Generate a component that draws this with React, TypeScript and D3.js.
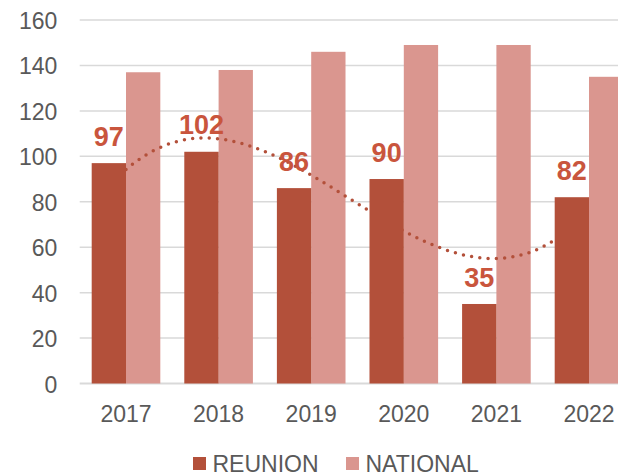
import React, { useEffect, useRef } from "react";
import * as d3 from "d3";

const years = ["2017", "2018", "2019", "2020", "2021", "2022"];
const reunion = [97, 102, 86, 90, 35, 82];
const national = [137, 138, 146, 149, 149, 135];
const yTicks = [0, 20, 40, 60, 80, 100, 120, 140, 160];
const seriesNames = ["REUNION", "NATIONAL"];

const colors = { reunion: "#B3503A", national: "#DA968F", label: "#C9553D", axis: "#595959", grid: "#D9D9D9" };

// least squares polynomial (like Excel's trendline)
const polyFit = (xs: number[], ys: number[], order: number) => {
  const n = order + 1;
  const A: number[][] = [];
  for (let i = 0; i < n; i++) {
    A.push([]);
    for (let j = 0; j < n; j++) A[i].push(d3.sum(xs, x => Math.pow(x, i + j)));
    A[i].push(d3.sum(xs, (x, k) => Math.pow(x, i) * ys[k]));
  }
  for (let i = 0; i < n; i++) {
    let p = i;
    for (let r = i + 1; r < n; r++) if (Math.abs(A[r][i]) > Math.abs(A[p][i])) p = r;
    [A[i], A[p]] = [A[p], A[i]];
    for (let r = 0; r < n; r++) {
      if (r === i) continue;
      const f = A[r][i] / A[i][i];
      for (let c = i; c <= n; c++) A[r][c] -= f * A[i][c];
    }
  }
  const coef = A.map((row, i) => row[n] / row[i]);
  return (x: number) => coef.reduce((s, c, i) => s + c * Math.pow(x, i), 0);
};

const drawChart = (el: SVGSVGElement) => {
  const width = 618;
  const height = 474;
  const svg = d3.select(el);
  svg.selectAll("*").remove();

  // plot runs past the right edge (the picture is cropped)
  const x = d3.scaleBand().domain(years).range([79.7, 635.3]).paddingInner(0.259).paddingOuter(0.1295);
  const y = d3.scaleLinear().domain([0, 160]).range([383.5, 20]);
  const inner = d3.scaleBand().domain(seriesNames).range([0, x.bandwidth()]);

  const font = "'Liberation Sans', Arial, sans-serif";

  // gridlines
  svg
    .append("g")
    .selectAll("line")
    .data(yTicks)
    .enter()
    .append("line")
    .attr("x1", 79.7)
    .attr("x2", width)
    .attr("y1", d => y(d))
    .attr("y2", d => y(d))
    .attr("stroke", colors.grid)
    .attr("stroke-width", d => (d === 0 ? 2 : 1.5));

  svg
    .append("g")
    .selectAll("text")
    .data(yTicks)
    .enter()
    .append("text")
    .attr("x", 57.3)
    .attr("y", d => y(d) + 9)
    .attr("text-anchor", "end")
    .attr("font-family", font)
    .attr("font-size", 23)
    .attr("fill", colors.axis)
    .text(d => d);

  svg
    .append("g")
    .selectAll("text")
    .data(years)
    .enter()
    .append("text")
    .attr("x", d => x(d)! + x.bandwidth() / 2)
    .attr("y", 422)
    .attr("text-anchor", "middle")
    .attr("font-family", font)
    .attr("font-size", 23)
    .attr("fill", colors.axis)
    .text(d => d);

  // national bars
  svg
    .append("g")
    .selectAll("rect")
    .data(national)
    .enter()
    .append("rect")
    .attr("x", (d, i) => x(years[i])! + inner("NATIONAL")!)
    .attr("y", d => y(d))
    .attr("width", inner.bandwidth())
    .attr("height", d => y(0) - y(d))
    .attr("fill", colors.national);

  // polynomial trendline of reunion
  const xs = years.map((_, i) => i + 1);
  const fit = polyFit(xs, reunion, 3);
  const tx = d3.scaleLinear().domain([1, 6]).range([x(years[0])! + x.bandwidth() / 2, x(years[5])! + x.bandwidth() / 2]);
  const pts = d3.range(1, 6.001, 0.05).map(t => [tx(t), y(fit(t))] as [number, number]);
  svg
    .append("path")
    .attr("d", d3.line()(pts))
    .attr("fill", "none")
    .attr("stroke", colors.reunion)
    .attr("stroke-width", 3.5)
    .attr("stroke-linecap", "round")
    .attr("stroke-dasharray", "0 8.3");

  // reunion bars
  svg
    .append("g")
    .selectAll("rect")
    .data(reunion)
    .enter()
    .append("rect")
    .attr("x", (d, i) => x(years[i])! + inner("REUNION")!)
    .attr("y", d => y(d))
    .attr("width", inner.bandwidth())
    .attr("height", d => y(0) - y(d))
    .attr("fill", colors.reunion);

  svg
    .append("g")
    .selectAll("text")
    .data(reunion)
    .enter()
    .append("text")
    .attr("x", (d, i) => x(years[i])! + inner("REUNION")! + inner.bandwidth() / 2)
    .attr("y", d => y(d) - 17.3)
    .attr("text-anchor", "middle")
    .attr("font-family", font)
    .attr("font-size", 27)
    .attr("font-weight", "bold")
    .attr("fill", colors.label)
    .text(d => d);

  // legend
  const legend = svg.append("g");
  const items = [
    { name: "REUNION", color: colors.reunion, x: 193 },
    { name: "NATIONAL", color: colors.national, x: 346 }
  ];
  items.forEach(it => {
    legend.append("rect").attr("x", it.x).attr("y", 457).attr("width", 13).attr("height", 13).attr("fill", it.color);
    legend
      .append("text")
      .attr("x", it.x + 19.5)
      .attr("y", 472)
      .attr("font-family", font)
      .attr("font-size", 23)
      .attr("fill", colors.axis)
      .text(it.name);
  });

  svg.attr("width", width).attr("height", height);
};

function App() {
  const ref = useRef<SVGSVGElement>(null);
  useEffect(() => {
    if (ref.current) drawChart(ref.current);
  }, []);
  return (
    <svg
      ref={ref}
      width={618}
      height={474}
      style={{ position: "absolute", left: 0, top: 0, background: "#fff" }}
    />
  );
}

export default App;
